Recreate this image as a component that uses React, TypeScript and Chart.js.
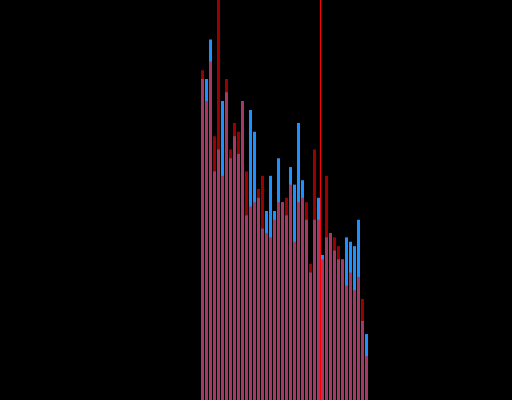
import React, { useEffect, useRef } from "react";
import { Chart, registerables } from "chart.js";

Chart.register(...registerables);

// First bin position on the x axis; each series value sits one bin further right.
const FIRST_BIN = 50;

// Per-bin counts for the two overlaid histograms.
const redCounts = [
  75, 68, 77, 60, 104, 51, 73, 57, 63, 61, 68, 52, 44, 45, 48, 51, 38, 37, 41, 45, 45,
  46, 49, 36, 45, 46, 45, 31, 57, 41, 32, 51, 38, 37, 35, 32, 26, 29, 25, 28, 23, 10,
];
const blueCounts = [
  73, 73, 82, 52, 57, 68, 70, 55, 60, 56, 68, 42, 66, 61, 46, 39, 43, 51, 43, 55, 45,
  42, 53, 49, 63, 50, 41, 29, 41, 46, 33, 37, 38, 34, 32, 32, 37, 36, 35, 41, 18, 15,
];

// Vertical marker position on the x axis.
const MARKER_X = 79.5;

// Axis extents.
const X_MIN = -0.625;
const X_MAX = 127.375;
const Y_MAX = 91;

const toPoints = (values: number[]) =>
  values.map((v, i) => ({ x: FIRST_BIN + i, y: v }));

const markerPlugin = {
  id: "markerLine",
  afterDatasetsDraw(chart: any) {
    const { ctx, chartArea, scales } = chart;
    const x = Math.floor(scales.x.getPixelForValue(MARKER_X)) + 0.5;
    ctx.save();
    ctx.strokeStyle = "#ff0000";
    ctx.lineWidth = 1;
    ctx.beginPath();
    ctx.moveTo(x, chartArea.top);
    ctx.lineTo(x, chartArea.bottom);
    ctx.stroke();
    ctx.restore();
  },
};

export default function App() {
  const canvasRef = useRef<HTMLCanvasElement | null>(null);

  useEffect(() => {
    if (!canvasRef.current) return;
    const chart = new Chart(canvasRef.current, {
      type: "bar",
      data: {
        datasets: [
          {
            label: "red",
            data: toPoints(redCounts),
            backgroundColor: "rgba(255, 0, 0, 0.6)",
            borderWidth: 0,
            barThickness: 3,
            grouped: false,
            inflateAmount: 0,
            order: 0,
          },
          {
            label: "blue",
            data: toPoints(blueCounts),
            backgroundColor: "rgb(30, 144, 255)",
            borderWidth: 0,
            barThickness: 3,
            grouped: false,
            inflateAmount: 0,
            order: 1,
          },
        ],
      },
      options: {
        animation: false,
        responsive: false,
        maintainAspectRatio: false,
        layout: { padding: 0 },
        plugins: {
          legend: { display: false },
          tooltip: { enabled: false },
        },
        scales: {
          x: {
            type: "linear",
            min: X_MIN,
            max: X_MAX,
            offset: false,
            display: false,
          },
          y: { min: 0, max: Y_MAX, display: false },
        },
      },
      plugins: [markerPlugin],
    } as any);
    return () => chart.destroy();
  }, []);

  return (
    <div
      style={{
        position: "fixed",
        left: 0,
        top: 0,
        width: 512,
        height: 400,
        background: "#000",
      }}
    >
      <canvas ref={canvasRef} width={512} height={400} style={{ display: "block" }} />
    </div>
  );
}
